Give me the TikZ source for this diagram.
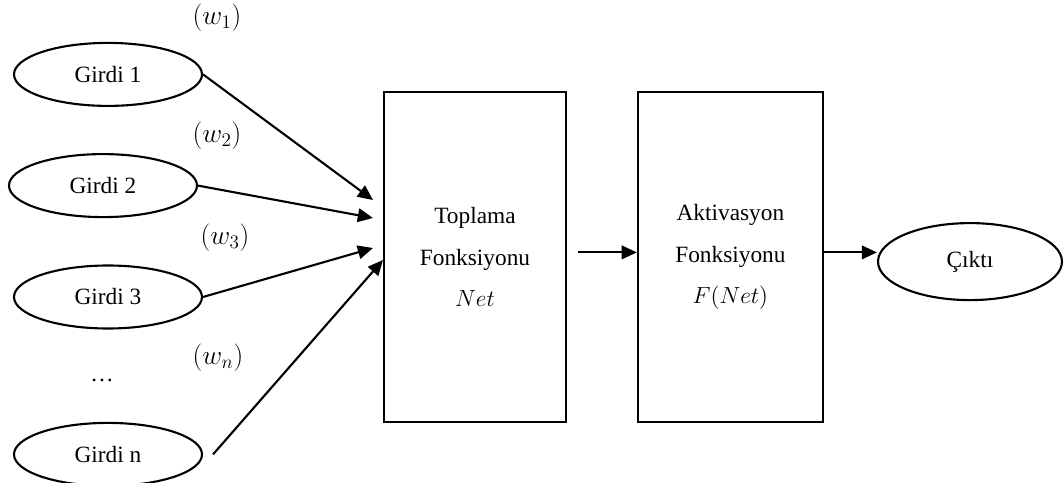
\RequirePackage{fix-cm}
\documentclass[tikz,border=0pt]{standalone}
\usepackage{fontspec}
\setmainfont{Liberation Serif}
\usepackage{tikz}
\usetikzlibrary{calc,arrows.meta,positioning,shapes.geometric}
\tikzset{
  ar/.style={-{Triangle[length=3.8mm,width=3.4mm]},line width=1.5pt},
  inp/.style={draw,ellipse,line width=1.5pt,minimum width=4.7cm,minimum height=1.575cm,inner sep=0pt},
  blk/.style={draw,line width=1.5pt,minimum width=4.55cm,minimum height=8.25cm,align=center},
  txt/.style={font=\fontsize{16.6}{29.4}\selectfont},
  wlab/.style={font=\fontsize{19.5}{22}\selectfont}
}

\begin{document}
\begin{tikzpicture}[txt]
\useasboundingbox (0,0) rectangle (26.6,-12.075);
% girdiler
\node[inp] (g1) at (2.70,-1.86) {Girdi 1};
\node[inp] (g2) at (2.575,-4.64) {Girdi 2};
\node[inp] (g3) at (2.70,-7.425) {Girdi 3};
\node[inp] (gn) at (2.70,-11.36) {Girdi n};
\node (dots) at (2.55,-9.50) {\dots};
% agirliklar
\node[wlab] (w1) at (5.425,-0.43) {$(w_1)$};
\node[wlab] (w2) at (5.425,-3.38) {$(w_2)$};
\node[wlab] (w3) at (5.625,-5.95) {$(w_3)$};
\node[wlab] (wn) at (5.45,-8.93) {$(w_n)$};
% bloklar
\node[blk] (sum) at (11.875,-6.425) {Toplama\\Fonksiyonu\\$Net$};
\node[blk,minimum width=4.625cm] (act) at (18.26,-6.425) {Aktivasyon\\Fonksiyonu\\$F(Net)$};
\node[inp,minimum width=4.6cm,minimum height=1.925cm] (out) at (24.25,-6.54) {Çıktı};
\coordinate (t1) at (9.325,-5.0);
\coordinate (t2) at (9.325,-5.45);
\coordinate (t3) at (9.325,-6.2);
\coordinate (tn) at (9.575,-6.5);
\coordinate (lvl) at (0,-6.31);
\draw[ar] (g1.east) -- (t1);
\draw[ar] (g2.east) -- (t2);
\draw[ar] (g3.east) -- (t3);
\draw[ar] ([xshift=0.25cm]gn.east) -- (tn);
\draw[ar] ([xshift=0.275cm]sum.east |- lvl) -- (act.west |- lvl);
\draw[ar] (act.east |- lvl) -- (out.west |- lvl);
\end{tikzpicture}
\end{document}
